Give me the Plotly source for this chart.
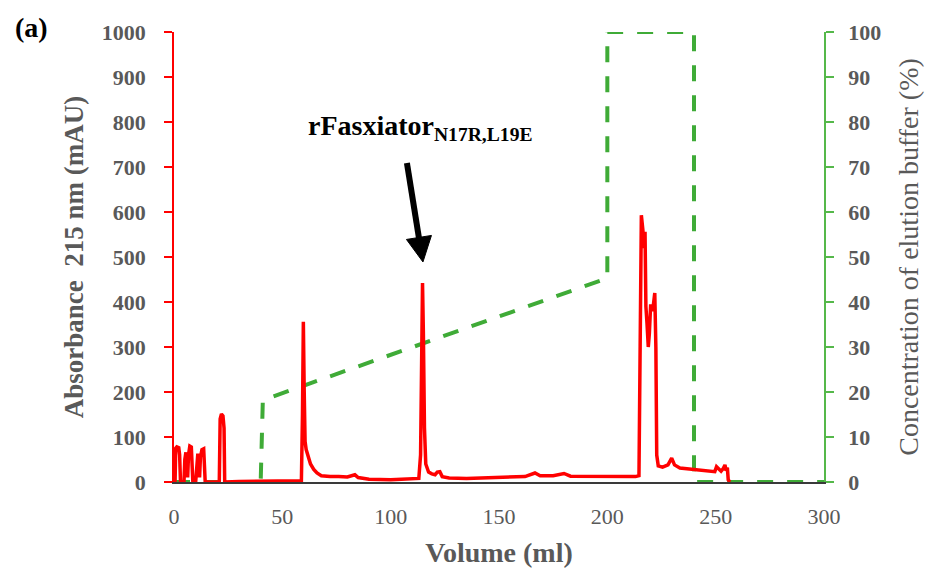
import plotly.graph_objects as go

# Absorbance trace at 215 nm (mAU) against elution volume (ml)
volume_ml = [
    0.0, 0.5, 0.8, 1.3, 2.2, 2.6, 3.0,
    4.6, 5.0, 5.5, 6.0, 6.3, 6.7, 7.3, 8.0, 8.4, 8.7,
    10.0, 10.5, 11.0, 11.5, 11.8, 12.2, 12.9, 13.7, 14.1, 14.4,
    20.9, 21.3, 21.9, 22.6, 23.1, 23.4,
    30.0, 40.0, 50.0, 58.8, 59.3, 59.7, 60.1, 60.5, 61.0, 62.0, 63.0, 64.5, 66.0, 68.0,
    72.0, 76.0, 80.0, 83.5, 85.0, 90.0, 95.0, 100.0, 105.0, 110.0, 113.0,
    113.8, 114.3, 114.7, 115.1, 115.6, 116.2, 117.5, 119.0, 120.5, 121.5, 122.7, 123.8,
    127.0, 135.0, 145.0, 155.0, 162.0, 166.6, 169.0, 175.0, 180.0, 183.0, 190.0, 200.0,
    208.0, 213.0, 214.6, 215.1, 215.7, 216.4, 217.0, 217.4, 217.8, 218.3, 218.9, 219.4,
    220.0, 220.5, 221.3, 221.9, 222.4, 222.8, 223.5, 225.5, 228.0, 229.7, 231.0, 233.5,
    240.0, 245.0, 249.6, 250.4, 251.5, 252.5, 253.5, 254.3, 254.8, 255.4, 255.8, 256.6,
]
absorbance_mau = [
    0, 2, 75, 78, 76, 60, 0,
    0, 50, 66, 40, 10, 60, 80, 78, 20, 0,
    0, 48, 63, 40, 10, 55, 72, 74, 30, 0,
    0, 140, 151, 147, 120, 0,
    1, 2, 2, 3, 150, 356, 200, 90, 72, 55, 40, 28, 20, 14,
    12, 12, 11, 16, 10, 6, 5, 5, 6, 7, 8,
    60, 300, 442, 330, 120, 40, 22, 18, 16, 22, 23, 12,
    9, 8, 9, 10, 12, 20, 14, 14, 19, 13, 13, 13,
    12, 12, 14, 300, 593, 560, 520, 556, 390, 353, 300, 330,
    395, 380, 395, 420, 300, 60, 36, 33, 38, 53, 38, 31,
    28, 25, 23, 34, 28, 24, 30, 38, 25, 32, 5, 0,
]

# Elution buffer gradient programme (%)
gradient_ml = [0, 40, 41, 200, 200, 240, 240, 300]
gradient_pct = [0, 0, 18.2, 45.3, 100, 100, 0, 0]

x_ticks = [0, 50, 100, 150, 200, 250, 300]
abs_ticks = list(range(0, 1001, 100))
pct_ticks = list(range(0, 101, 10))

GREY = "#595959"
SERIF = "Liberation Serif"
RED = "#ff0000"
GREEN = "#3fab37"
AXIS_GREEN = "#55b84a"

fig = go.Figure()

# gradient on the right-hand axis (drawn first so the absorbance sits on top)
fig.add_trace(go.Scatter(
    x=gradient_ml, y=gradient_pct, mode="lines", yaxis="y",
    line=dict(color=GREEN, width=4, dash="16px,14px"),
    showlegend=False, hoverinfo="skip",
))
fig.add_trace(go.Scatter(
    x=volume_ml, y=absorbance_mau, mode="lines", yaxis="y2",
    line=dict(color=RED, width=3.5),
    showlegend=False,
))

fig.update_layout(
    width=930, height=568,
    margin=dict(l=174, r=106, t=32, b=86),
    paper_bgcolor="white", plot_bgcolor="white",
    font=dict(family=SERIF, color=GREY),
    xaxis=dict(
        range=[0, 300], tickvals=x_ticks, ticktext=[str(v) for v in x_ticks],
        showgrid=False, zeroline=False, showline=True, linecolor="#3a3a3a", linewidth=2,
        ticks="", tickfont=dict(family=SERIF, size=22, color=GREY),
        ticklabelstandoff=14, automargin=False,
        title=dict(text="Volume (ml)", font=dict(family=SERIF, size=28, color=GREY, weight="bold"),
                   standoff=16),
    ),
    yaxis=dict(
        range=[0, 100], tickvals=pct_ticks, side="right",
        showgrid=False, zeroline=False, showline=True, linecolor=AXIS_GREEN, linewidth=1.5,
        ticks="outside", ticklen=8, tickcolor=AXIS_GREEN, tickwidth=1.5,
        tickfont=dict(family=SERIF, size=22, color=GREY, weight="bold"),
        ticklabelstandoff=10, automargin=False,
        title=dict(text="Concentration of elution buffer (%)",
                   font=dict(family=SERIF, size=28, color=GREY), standoff=18),
    ),
    yaxis2=dict(
        range=[0, 1000], tickvals=abs_ticks, side="left", overlaying="y",
        showgrid=False, zeroline=False, showline=True, linecolor=RED, linewidth=1.5,
        ticks="outside", ticklen=8, tickcolor=RED, tickwidth=1.5,
        tickfont=dict(family=SERIF, size=22, color=GREY, weight="bold"),
        ticklabelstandoff=14, automargin=False,
        title=dict(text="Absorbance  215 nm (mAU)",
                   font=dict(family=SERIF, size=27, color=GREY, weight="bold"), standoff=10),
    ),
)

# arrow pointing at the rFasxiator peak: shaft plus a triangular head (pixel-sized, anchored at the tip)
tip_x, tip_y = 114.9, 489
fig.add_shape(type="line", xref="x", yref="y2", x0=107.5, y0=709, x1=113.3, y1=535,
              line=dict(color="black", width=6))
fig.add_shape(type="path", xref="x", yref="y2", xsizemode="pixel", ysizemode="pixel",
              xanchor=tip_x, yanchor=tip_y,
              path="M0,0 L8.5,26.5 L-16.5,22.5 Z",
              fillcolor="black", line=dict(color="black", width=1))

fig.add_annotation(
    x=61, y=744, xref="x", yref="y2", xanchor="left", yanchor="bottom",
    text="<b>rFasxiator<sub>N17R,L19E</sub></b>", showarrow=False,
    font=dict(family=SERIF, size=28, color="black"),
)
fig.add_annotation(
    x=-0.247, y=1.011, xref="paper", yref="paper", xanchor="left", yanchor="middle",
    text="<b>(a)</b>", showarrow=False, font=dict(family=SERIF, size=28, color="black"),
)

fig.write_html("out.html")
